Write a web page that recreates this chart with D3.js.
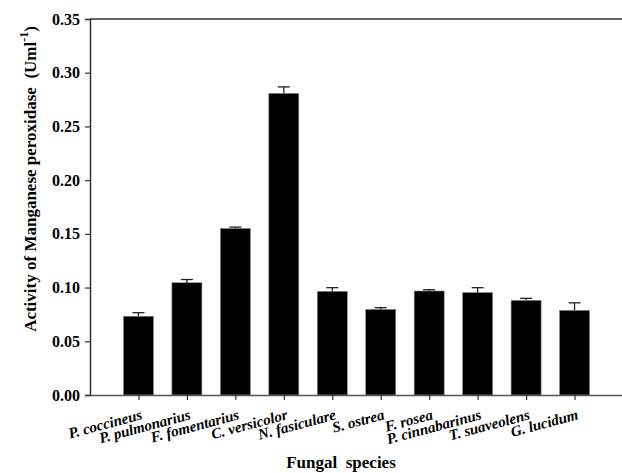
<!DOCTYPE html>
<html><head><meta charset="utf-8">
<script src="https://cdn.jsdelivr.net/npm/d3@7"></script>
<style>
body{margin:0;background:#fff;}
text{font-family:"Liberation Serif","Times New Roman",serif;}
</style></head>
<body>
<svg id="c" width="622" height="473"></svg>
<script>
const categories = ["P. coccineus","P. pulmonarius","F. fomentarius","C. versicolor","N. fasiculare","S. ostrea","F. rosea","P. cinnabarinus","T. suaveolens","G. lucidum"];
const values = [0.0733,0.1045,0.155,0.2808,0.0965,0.0797,0.0968,0.0953,0.0881,0.0788];
const errors = [0.0033,0.0030,0.0013,0.0060,0.0034,0.0016,0.0012,0.0046,0.0019,0.0070];
const yTicks = [0,0.05,0.10,0.15,0.20,0.25,0.30,0.35];

(function(){
const FF = "'Liberation Serif', 'Times New Roman', serif";
const svg = d3.select("#c");
const pLeft = 90, pRight = 623, pTop = 19, pBottom = 395;
const x = d3.scaleLinear().domain([0, categories.length + 1]).range([pLeft, pRight]);
const y = d3.scaleLinear().domain([0, 0.35]).range([pBottom, pTop]);
const barW = 30;

svg.append("g").selectAll("rect").data(values).join("rect")
  .attr("x", (d,i) => x(i+1) - barW/2)
  .attr("y", d => y(d))
  .attr("width", barW)
  .attr("height", d => y(0) - y(d))
  .attr("fill", "#000")
  .attr("stroke", "#888").attr("stroke-width", 0.6);

const eg = svg.append("g").attr("stroke", "#222").attr("stroke-width", 1.3);
values.forEach((v,i) => {
  const cx = x(i+1);
  eg.append("line").attr("x1", cx).attr("x2", cx).attr("y1", y(v)).attr("y2", y(v+errors[i]));
  eg.append("line").attr("x1", cx-6).attr("x2", cx+6).attr("y1", y(v+errors[i])).attr("y2", y(v+errors[i]));
});

svg.append("line").attr("x1", pLeft).attr("x2", 622).attr("y1", pTop).attr("y2", pTop)
  .attr("stroke", "#333").attr("stroke-width", 1.5);

const ya = svg.append("g").attr("transform", `translate(${pLeft},0)`)
  .call(d3.axisLeft(y).tickValues(yTicks).tickFormat(d3.format(".2f")).tickSize(5).tickPadding(5));
ya.select(".domain").attr("stroke", "#333").attr("stroke-width", 1.5);
ya.selectAll(".tick line").attr("stroke", "#333").attr("stroke-width", 1.2);
ya.selectAll("text").attr("font-size", 16).attr("font-weight", "bold").attr("fill", "#000")
  .style("font-family", FF);

const xa = svg.append("g").attr("transform", `translate(0,${pBottom})`)
  .call(d3.axisBottom(x).tickValues(d3.range(1, categories.length+1)).tickSize(5).tickSizeOuter(0)
    .tickFormat(d => categories[d-1]));
xa.select(".domain").attr("stroke", "#555").attr("stroke-width", 1.5);
xa.selectAll(".tick line").attr("stroke", "#333").attr("stroke-width", 1.2);
xa.selectAll("text")
  .attr("font-size", 15).attr("font-weight", "bold").attr("font-style", "italic").attr("fill", "#000")
  .style("font-family", FF)
  .attr("text-anchor", "end")
  .attr("dy", null).attr("y", 0)
  .attr("transform", "translate(4,24) rotate(-15)");

svg.append("text").attr("x", 341).attr("y", 468).attr("text-anchor", "middle")
  .attr("font-size", 17).attr("font-weight", "bold").attr("xml:space","preserve")
  .style("font-family", FF)
  .text("Fungal  species");

const yt = svg.append("text").attr("transform", "translate(36,179) rotate(-90)")
  .attr("text-anchor", "middle").attr("font-size", 17).attr("font-weight", "bold").attr("xml:space","preserve")
  .style("font-family", FF);
yt.append("tspan").text("Activity of Manganese peroxidase  (Uml");
yt.append("tspan").attr("dy", -8).attr("font-size", 12).text("-1");
yt.append("tspan").attr("dy", 8).text(")");
})();
</script>
</body></html>
